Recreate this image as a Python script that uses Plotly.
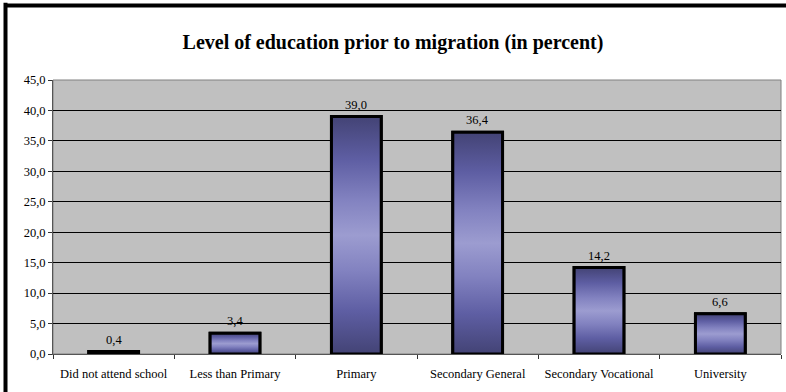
import plotly.graph_objects as go

categories = ["Did not attend school", "Less than Primary", "Primary",
              "Secondary General", "Secondary Vocational", "University"]
values = [0.4, 3.4, 39.0, 36.4, 14.2, 6.6]
y_ticks = [0, 5, 10, 15, 20, 25, 30, 35, 40, 45]
title_text = "Level of education prior to migration (in percent)"

FONT = "Times New Roman, Liberation Serif, Tinos, DejaVu Serif, serif"
SMALL = 12.5
BAR_W = 0.41
grad = [[0.0, "#434375"], [0.18, "#5e5ea3"], [0.35, "#8282c0"], [0.5, "#9c9cd0"],
        [0.65, "#8282c0"], [0.82, "#5e5ea3"], [1.0, "#434375"]]

idx = list(range(len(categories)))
labels = [f"{v:.1f}".replace(".", ",") for v in values]

fig = go.Figure()

# outline
fig.add_trace(go.Bar(
    x=idx, y=values, width=BAR_W,
    marker=dict(color="rgba(0,0,0,0)", line=dict(color="black", width=3)),
    hoverinfo="skip", showlegend=False,
))

# gradient fills built from the same data
for i, v in zip(idx, values):
    x0, x1 = i - BAR_W / 2, i + BAR_W / 2
    fig.add_trace(go.Scatter(
        x=[x0, x0, x1, x1, x0], y=[0, v, v, 0, 0],
        mode="lines", fill="toself",
        fillgradient=dict(type="vertical", colorscale=grad),
        line=dict(color="black", width=3),
        hoverinfo="skip", showlegend=False,
    ))

annotations = [dict(x=i, y=v, xref="x", yref="y", text=t, showarrow=False,
                    yanchor="bottom", yshift=3,
                    font=dict(family=FONT, size=SMALL, color="black"))
               for i, v, t in zip(idx, values, labels)]

top_y = 1 + (80 - 5.5) / 274
left_x = (5.5 - 53) / 728

fig.update_layout(
    width=786, height=392,
    margin=dict(l=53, r=5, t=80, b=38),
    paper_bgcolor="white", plot_bgcolor="#C0C0C0",
    separators=", ",
    title=dict(text=f"<b>{title_text}</b>", x=0.5, xanchor="center",
               y=1 - 42 / 392, yanchor="middle",
               font=dict(family=FONT, size=20, color="black")),
    font=dict(family=FONT, size=SMALL, color="black"),
    showlegend=False,
    annotations=annotations,
    xaxis=dict(range=[-0.5, len(categories) - 0.5], tickmode="array",
               tickvals=idx, ticktext=categories, ticks="", showgrid=False,
               zeroline=False, showline=True, linecolor="#555555", linewidth=1,
               ticklabelstandoff=8,
               tickfont=dict(family=FONT, size=SMALL, color="black"),
               minor=dict(ticks="outside", tick0=-0.5, dtick=1, ticklen=4,
                          tickcolor="#333333", showgrid=False)),
    yaxis=dict(range=[0, 45], tickmode="array", tickvals=y_ticks,
               tickformat=".1f", ticks="outside", ticklen=4, tickcolor="#333333",
               showgrid=True, gridcolor="black", gridwidth=1,
               zeroline=False, showline=True, linecolor="#555555", linewidth=1,
               tickfont=dict(family=FONT, size=SMALL, color="black")),
    shapes=[
        dict(type="rect", xref="paper", yref="paper", x0=0, x1=1, y0=0, y1=1,
             line=dict(color="#808080", width=1), layer="below"),
        dict(type="line", xref="paper", yref="paper",
             x0=left_x, x1=1.2, y0=top_y, y1=top_y,
             line=dict(color="black", width=4)),
        dict(type="line", xref="paper", yref="paper",
             x0=left_x, x1=left_x, y0=top_y + 0.01, y1=-0.5,
             line=dict(color="black", width=4)),
    ],
)

fig.write_html("out.html")
